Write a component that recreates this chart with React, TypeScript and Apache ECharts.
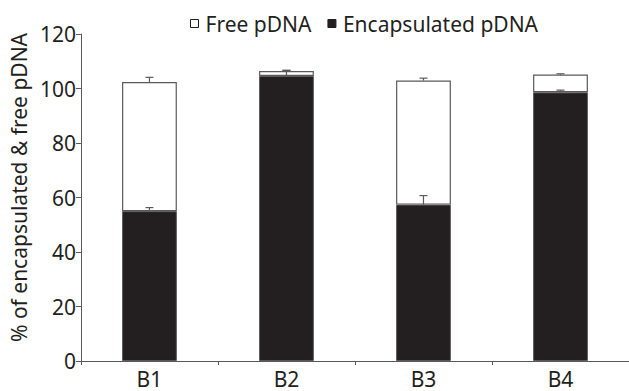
import React, { useEffect, useRef } from "react";
import * as echarts from "echarts";

const categories = ["B1", "B2", "B3", "B4"];
const encapsulated = [55.0, 104.6, 57.4, 98.6];
const free = [47.4, 1.8, 45.5, 6.5];
const encError = [1.3, 2.0, 3.3, 0.8];
const totalError = [1.7, 0.3, 0.9, 0.3];
const yTicks = { min: 0, max: 120, interval: 20 };

const FONT = "'Noto Sans', 'Open Sans', sans-serif";
const TEXT = "#231f20";
const GRAY = "#5a5a5a";
const FS = 21;

export default function App() {
  const ref = useRef<HTMLDivElement>(null);
  useEffect(() => {
    if (!ref.current) return;
    const chart = echarts.init(ref.current, undefined, { renderer: "svg" });
    const errData: number[][] = [];
    categories.forEach((_, i) => {
      errData.push([i, encapsulated[i], encapsulated[i] + encError[i]]);
      errData.push([i, encapsulated[i] + free[i], encapsulated[i] + free[i] + totalError[i]]);
    });
    chart.setOption({
      animation: false,
      textStyle: { fontFamily: FONT },
      legend: {
        left: 185,
        top: 8,
        itemWidth: 8,
        itemHeight: 8,
        itemGap: 16,
        textStyle: { fontSize: FS, color: TEXT, fontFamily: FONT, padding: [0, 0, 0, 2] },
        data: [
          { name: "Free pDNA", icon: "rect", itemStyle: { color: "#fff", borderColor: TEXT, borderWidth: 1 } },
          { name: "Encapsulated pDNA", icon: "rect", itemStyle: { color: TEXT, borderColor: TEXT, borderWidth: 1 } },
        ],
      },
      grid: { left: 75, right: -2, top: 34, bottom: 30 },
      xAxis: {
        type: "category",
        data: categories,
        axisLine: { lineStyle: { color: GRAY, width: 1 } },
        axisTick: { show: true, alignWithLabel: false, length: 4, lineStyle: { color: GRAY } },
        axisLabel: { fontSize: FS, color: TEXT, margin: 7, fontFamily: FONT },
      },
      yAxis: {
        type: "value",
        min: yTicks.min,
        max: yTicks.max,
        interval: yTicks.interval,
        name: "% of encapsulated & free pDNA",
        nameLocation: "middle",
        nameRotate: 90,
        nameGap: 46,
        nameTextStyle: { fontSize: FS, color: TEXT, fontFamily: FONT, padding: [0, 0, 0, 20] },
        splitLine: { show: false },
        axisLine: { show: true, lineStyle: { color: GRAY, width: 1 } },
        axisTick: { show: true, length: 5, lineStyle: { color: GRAY } },
        axisLabel: { fontSize: FS, color: TEXT, margin: 5, fontFamily: FONT },
      },
      series: [
        {
          name: "Encapsulated pDNA",
          type: "bar",
          stack: "total",
          data: encapsulated,
          barWidth: "40%",
          itemStyle: { color: TEXT, borderColor: GRAY, borderWidth: 1 },
        },
        {
          name: "Free pDNA",
          type: "bar",
          stack: "total",
          data: free,
          barWidth: "40%",
          itemStyle: { color: "#fff", borderColor: GRAY, borderWidth: 1.2 },
        },
        {
          type: "custom",
          name: "err",
          data: errData,
          z: 10,
          renderItem: (params: any, api: any) => {
            const x = api.value(0);
            const lo = api.coord([x, api.value(1)]);
            const hi = api.coord([x, api.value(2)]);
            const cap = 4;
            const style = { stroke: GRAY, lineWidth: 1.2 };
            return {
              type: "group",
              children: [
                { type: "line", shape: { x1: lo[0], y1: lo[1], x2: hi[0], y2: hi[1] }, style },
                { type: "line", shape: { x1: hi[0] - cap, y1: hi[1], x2: hi[0] + cap, y2: hi[1] }, style },
              ],
            };
          },
        },
      ],
    });
    return () => chart.dispose();
  }, []);
  return <div ref={ref} style={{ width: 629, height: 391, position: "absolute", left: 0, top: 0 }} />;
}
